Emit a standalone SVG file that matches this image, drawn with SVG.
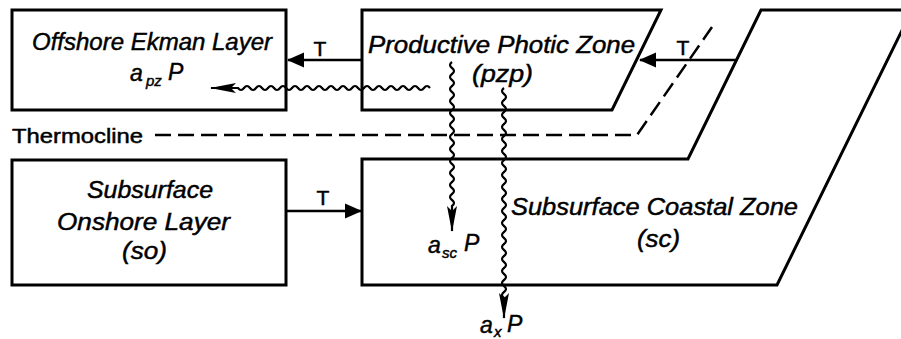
<svg xmlns="http://www.w3.org/2000/svg" width="901" height="339" viewBox="0 0 901 339">
<style>
.box{fill:#fff;stroke:#000;stroke-width:3;stroke-linejoin:miter}
.lbl{font-family:"Liberation Sans",Arial,sans-serif;font-style:italic;font-size:23px;fill:#000;stroke:#000;stroke-width:0.45}
.up{font-family:"Liberation Sans",Arial,sans-serif;font-size:21px;fill:#000;stroke:#000;stroke-width:0.5}
.sub{font-size:15px}
.flow{fill:none;stroke:#000;stroke-width:2.5}
.wavy{fill:none;stroke:#000;stroke-width:2.2}
.dash{fill:none;stroke:#000;stroke-width:2.5;stroke-dasharray:16 7}
</style>
<defs>
<marker id="arrT" viewBox="0 0 17 16" refX="16" refY="8" markerWidth="17" markerHeight="16" markerUnits="userSpaceOnUse" orient="auto">
<path d="M0,0.5 L17,8 L0,15.5 z" fill="#000"/>
</marker>
<marker id="arrW" viewBox="0 0 26 12" refX="25" refY="6" markerWidth="26" markerHeight="12" markerUnits="userSpaceOnUse" orient="auto">
<path d="M0,1 L26,6 L0,11 L5,6 z" fill="#000"/>
</marker>
</defs>
<rect width="901" height="339" fill="#fff"/>

<g id="sc">
<polygon class="box" points="910,10 761,10 688,159 362,159 362,285 777,285 910,14"/>
<text class="lbl" x="511" y="215" textLength="287" lengthAdjust="spacingAndGlyphs">Subsurface Coastal Zone</text>
<text class="lbl" x="637" y="247" textLength="43" lengthAdjust="spacingAndGlyphs">(sc)</text>
</g>

<g id="offshore">
<rect class="box" x="12" y="10" width="274" height="100"/>
<text class="lbl" x="32" y="50" textLength="240" lengthAdjust="spacingAndGlyphs">Offshore Ekman Layer</text>
</g>

<g id="pzp">
<polygon class="box" points="362,10 661,10 612,110 362,110"/>
<text class="lbl" x="368" y="53" textLength="267" lengthAdjust="spacingAndGlyphs">Productive Photic Zone</text>
<text class="lbl" x="472" y="82" textLength="61" lengthAdjust="spacingAndGlyphs">(pzp)</text>
</g>

<g id="so">
<rect class="box" x="12" y="160" width="274" height="125"/>
<text class="lbl" x="87" y="198" textLength="126" lengthAdjust="spacingAndGlyphs">Subsurface</text>
<text class="lbl" x="57" y="230" textLength="173" lengthAdjust="spacingAndGlyphs">Onshore Layer</text>
<text class="lbl" x="122" y="259" textLength="45" lengthAdjust="spacingAndGlyphs">(so)</text>
</g>

<g id="thermocline">
<text class="up" x="12" y="143" font-size="21" textLength="131" lengthAdjust="spacingAndGlyphs">Thermocline</text>
<path class="dash" d="M155,135 L637,135 L712,27"/>
</g>

<g id="connectors">
<path class="flow" d="M362,60 L288,60" marker-end="url(#arrT)"/>
<text class="up" x="320" y="56" text-anchor="middle">T</text>
<path class="flow" d="M736,60 L640,60" marker-end="url(#arrT)"/>
<text class="up" x="683" y="55" text-anchor="middle">T</text>
<path class="flow" d="M287,211 L361,211" marker-end="url(#arrT)"/>
<text class="up" x="323" y="205" text-anchor="middle">T</text>

<path class="wavy" d="M430,88 q-3,-4 -6,0 t-6,0 t-6,0 t-6,0 t-6,0 t-6,0 t-6,0 t-6,0 t-6,0 t-6,0 t-6,0 t-6,0 t-6,0 t-6,0 t-6,0 t-6,0 t-6,0 t-6,0 t-6,0 t-6,0 t-6,0 t-6,0 t-6,0 t-6,0 t-6,0 t-6,0 t-6,0 t-6,0 t-6,0 t-6,0 t-6,0 t-6,0 L211,88" marker-end="url(#arrW)"/>
<text class="lbl" x="130" y="81">a<tspan class="sub" x="146" y="86">pz</tspan><tspan x="168" y="80">P</tspan></text>

<path class="wavy" d="M452,62 q-4,3 0,6 t0,6 t0,6 t0,6 t0,6 t0,6 t0,6 t0,6 t0,6 t0,6 t0,6 t0,6 t0,6 t0,6 t0,6 t0,6 t0,6 t0,6 t0,6 t0,6 t0,6 t0,6 t0,6 t0,6 L452,231" marker-end="url(#arrW)"/>
<text class="lbl" x="428" y="253">a<tspan class="sub" x="442" y="258">sc</tspan><tspan x="464" y="251">P</tspan></text>

<path class="wavy" d="M504,88 q-4,3 0,6 t0,6 t0,6 t0,6 t0,6 t0,6 t0,6 t0,6 t0,6 t0,6 t0,6 t0,6 t0,6 t0,6 t0,6 t0,6 t0,6 t0,6 t0,6 t0,6 t0,6 t0,6 t0,6 t0,6 t0,6 t0,6 t0,6 t0,6 t0,6 t0,6 t0,6 t0,6 t0,6 t0,6 t0,6 L504,318" marker-end="url(#arrW)"/>
<text class="lbl" x="480" y="333">a<tspan class="sub" x="494" y="337" font-size="12">x</tspan><tspan x="507" y="332">P</tspan></text>
</g>
</svg>
